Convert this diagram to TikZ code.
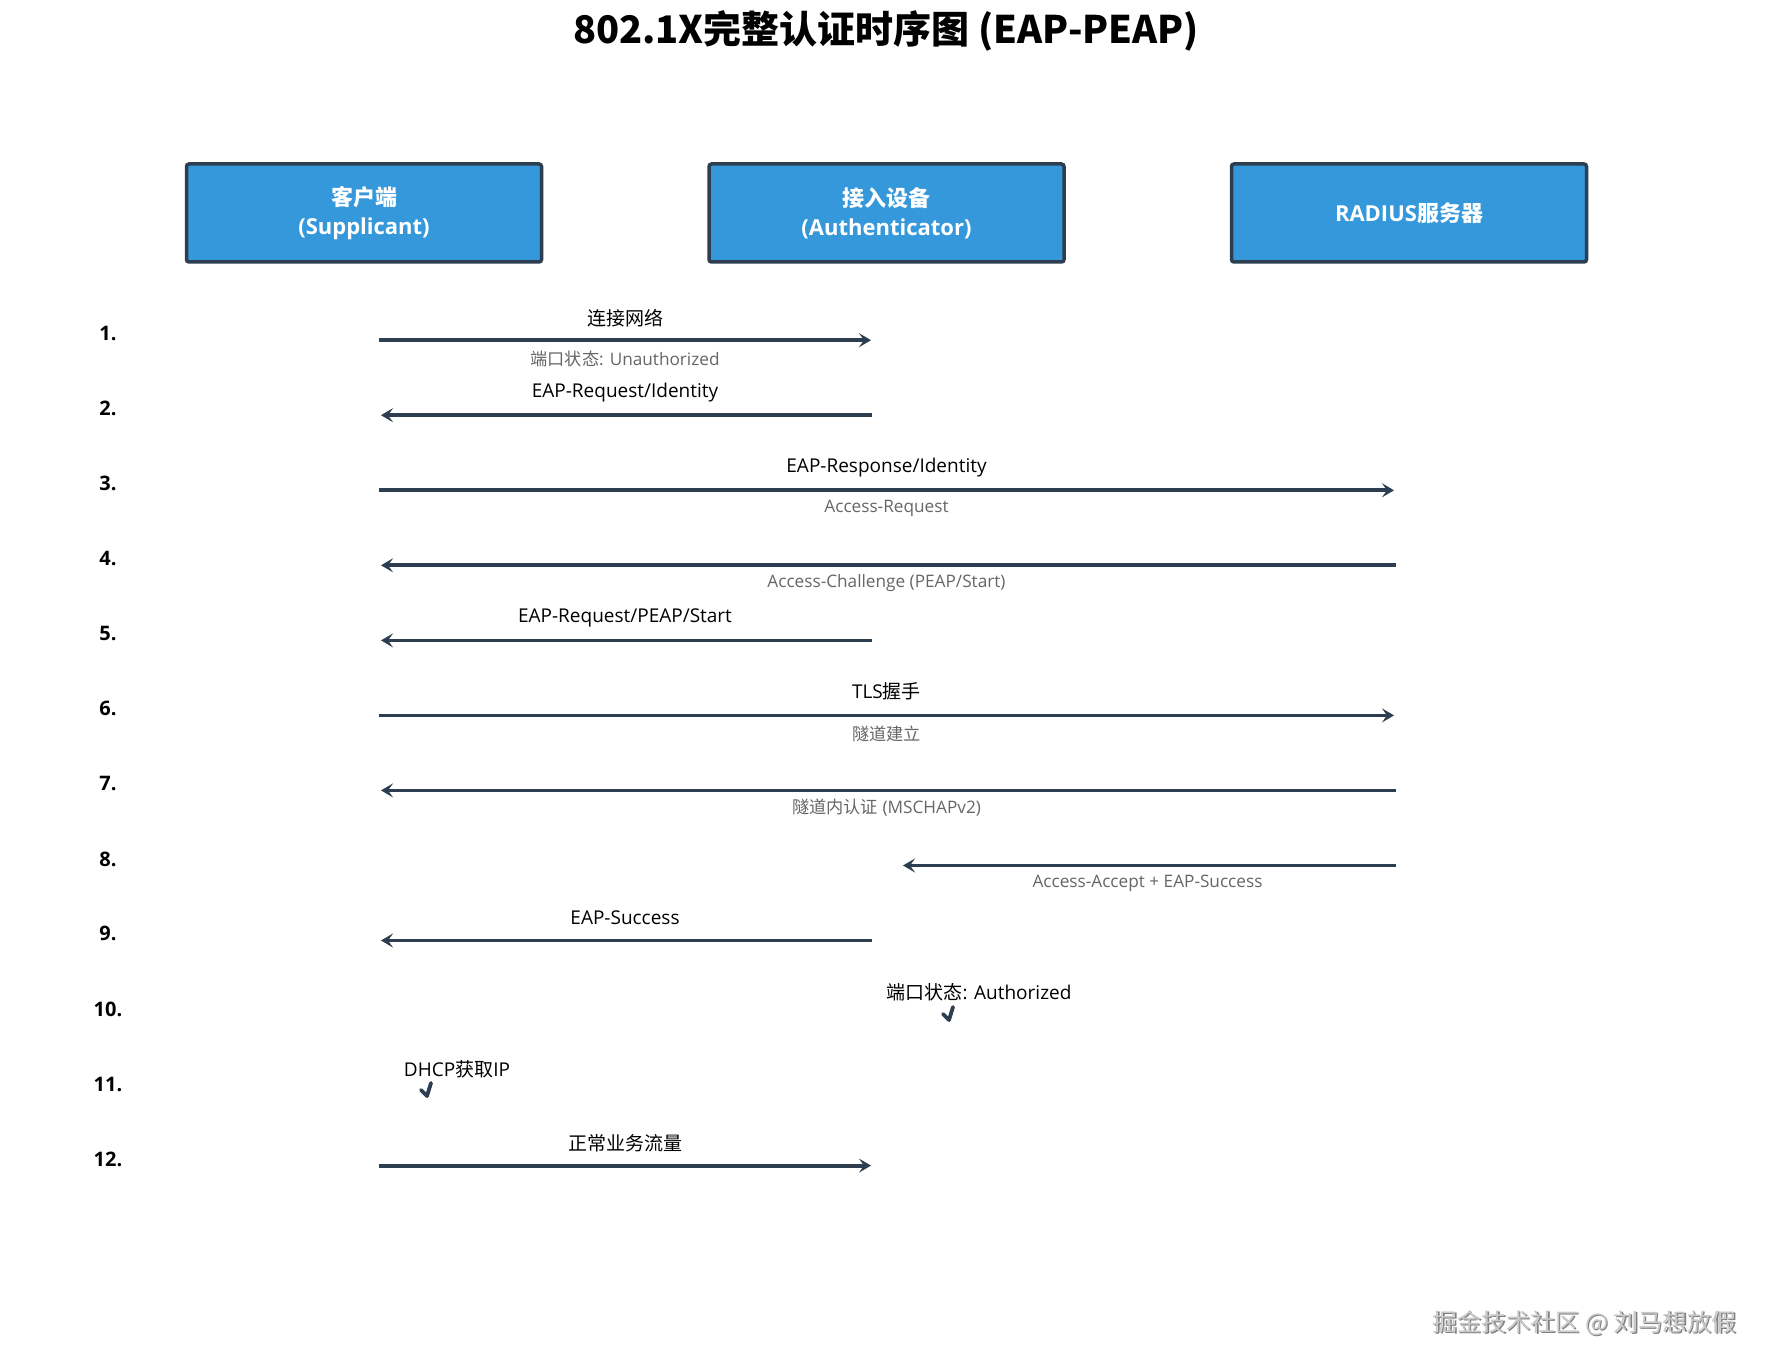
\documentclass[tikz,border=0pt]{standalone}
\usepackage{fontspec}
\setmainfont{Open Sans}
\newfontfamily\zh{Noto Sans CJK SC}
\usetikzlibrary{arrows.meta}
\definecolor{boxblue}{HTML}{3498DB}
\definecolor{dark}{HTML}{2C3E50}
\definecolor{graytxt}{HTML}{666666}
\definecolor{wmfill}{HTML}{C8C8C8}
\definecolor{wmshadow}{HTML}{808080}
\begin{document}
\begin{tikzpicture}[x=1pt,y=-1pt,
 actor/.style={draw=dark, line width=3.5pt, fill=boxblue, rounded corners=2.5pt,
   minimum width=355pt, minimum height=98pt, text=white, align=center,
   font=\fontsize{22}{29}\selectfont\bfseries},
 msg/.style={draw=dark, line width=3.8pt, -{Stealth[length=12pt,width=14pt,inset=5pt]}},
 lab/.style={font=\fontsize{19}{22}\selectfont, text=black, inner sep=0pt},
 sub/.style={font=\fontsize{17.2}{20}\selectfont, text=graytxt, inner sep=0pt},
 num/.style={font=\fontsize{20}{24}\selectfont\bfseries, inner sep=0pt},
 tick/.style={draw=dark, line width=3.8pt, line cap=round, line join=round},
]
\useasboundingbox (0,0) rectangle (1773,1372);
\fill[white] (0,0) rectangle (1773,1372);

% title
\node[font=\zh\bfseries\fontsize{38}{44}\selectfont, inner sep=0pt] (title) at (886,31) {802.1X完整认证时序图 (EAP-PEAP)};

% actors
\node[actor] (sup) at (364,213) {{\zh 客户端}\\(Supplicant)};
\node[actor] (auth) at (886.5,213) {{\zh 接入设备}\\(Authenticator)};
\node[actor] (rad) at (1409,213) {RADIUS{\zh 服务器}};

% row numbers
\node[num] (n1) at (108,333.6) {1.};
\node[num] (n2) at (108,408.6) {2.};
\node[num] (n3) at (108,483.7) {3.};
\node[num] (n4) at (108,558.7) {4.};
\node[num] (n5) at (108,633.8) {5.};
\node[num] (n6) at (108,708.8) {6.};
\node[num] (n7) at (108,783.8) {7.};
\node[num] (n8) at (108,858.9) {8.};
\node[num] (n9) at (108,933.9) {9.};
\node[num] (n10) at (108,1009) {10.};
\node[num] (n11) at (108,1084) {11.};
\node[num] (n12) at (108,1159) {12.};

% endpoints
\coordinate (s1) at (379,340.2);   \coordinate (a1) at (871,340.2);
\coordinate (s2) at (381,415.2);   \coordinate (a2) at (872,415.2);
\coordinate (s3) at (379,490.3);   \coordinate (r3) at (1394,490.3);
\coordinate (s4) at (381,565.3);   \coordinate (r4) at (1396,565.3);
\coordinate (s5) at (381,640.4);   \coordinate (a5) at (872,640.4);
\coordinate (s6) at (379,715.4);   \coordinate (r6) at (1394,715.4);
\coordinate (s7) at (381,790.4);   \coordinate (r7) at (1396,790.4);
\coordinate (a8) at (903,865.5);   \coordinate (r8) at (1396,865.5);
\coordinate (s9) at (381,940.5);   \coordinate (a9) at (872,940.5);
\coordinate (s12) at (379,1165.6); \coordinate (a12) at (871,1165.6);

% messages
\draw[msg] (s1) -- (a1);
\node[lab] (l1) at (625,317.8) {{\zh 连接网络}};
\node[sub] (u1) at (625,358.5) {{\zh 端口状态}: Unauthorized};

\draw[msg] (a2) -- (s2);
\node[lab] (l2) at (625,392.5) {EAP-Request/Identity};

\draw[msg] (s3) -- (r3);
\node[lab] (l3) at (886.5,467.5) {EAP-Response/Identity};
\node[sub] (u3) at (886.5,508) {Access-Request};

\draw[msg] (r4) -- (s4);
\node[sub] (u4) at (886.5,583) {Access-Challenge (PEAP/Start)};

\draw[msg] (a5) -- (s5);
\node[lab] (l5) at (625,617.5) {EAP-Request/PEAP/Start};

\draw[msg] (s6) -- (r6);
\node[lab] (l6) at (886.5,691.5) {TLS{\zh 握手}};
\node[sub] (u6) at (886.5,734) {{\zh 隧道建立}};

\draw[msg] (r7) -- (s7);
\node[sub] (u7) at (886.5,808) {{\zh 隧道内认证} (MSCHAPv2)};

\draw[msg] (r8) -- (a8);
\node[sub] (u8) at (1147.5,883.5) {Access-Accept + EAP-Success};

\draw[msg] (a9) -- (s9);
\node[lab] (l9) at (625,917.5) {EAP-Success};

% self notes
\node[lab] (l10) at (979,992) {{\zh 端口状态}: Authorized};
\coordinate (t10) at (949,1020);
\draw[tick] ([shift={(-6,-6)}]t10) -- (t10) -- ([shift={(4,-13)}]t10);

\node[lab] (l11) at (457,1069) {DHCP{\zh 获取}IP};
\coordinate (t11) at (427,1096);
\draw[tick] ([shift={(-6,-6)}]t11) -- (t11) -- ([shift={(4,-13)}]t11);

\draw[msg] (s12) -- (a12);
\node[lab] (l12) at (625,1143) {{\zh 正常业务流量}};

% watermark
\node[font=\zh\fontsize{24.5}{28}\selectfont, text=wmshadow, inner sep=0pt] (wms) at (1586,1324.5) {掘金技术社区 @ 刘马想放假};
\node[font=\zh\fontsize{24.5}{28}\selectfont, text=wmfill, inner sep=0pt] (wm) at (1584.5,1323) {掘金技术社区 @ 刘马想放假};
\end{tikzpicture}
\end{document}
